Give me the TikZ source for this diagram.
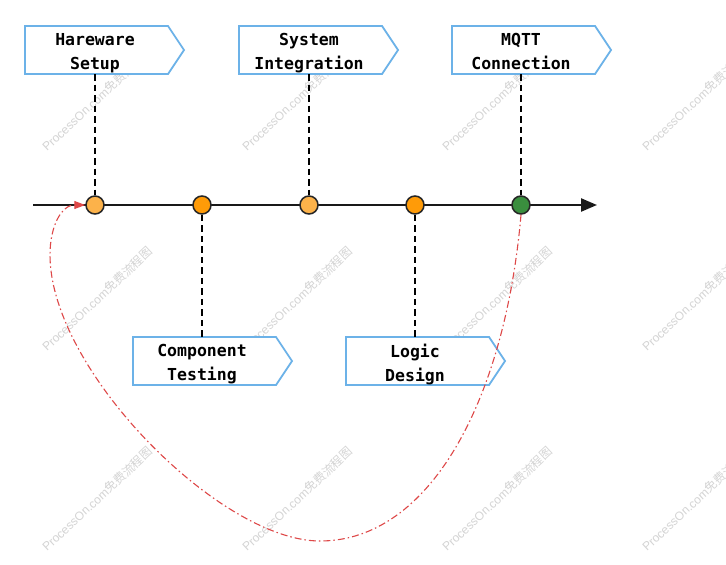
\documentclass[tikz,border=0pt]{standalone}
\usepackage{fontspec}
\setmainfont{Liberation Sans}
\newfontfamily\labelfont{DejaVu Sans Mono}
\newfontfamily\cjkfont{Noto Sans CJK SC}
\usetikzlibrary{arrows.meta}
\definecolor{boxblue}{RGB}{108,178,232}
\definecolor{lightorange}{RGB}{252,178,74}
\definecolor{darkorange}{RGB}{255,155,8}
\definecolor{dotgreen}{RGB}{58,142,62}
\definecolor{loopred}{RGB}{222,72,72}
\definecolor{wmgray}{RGB}{212,212,212}
\tikzset{
  evbox/.style={draw=boxblue, line width=1.8pt, fill=white, line join=miter},
  evtext/.style={font={\labelfont\bfseries\fontsize{16.5}{24}\selectfont}, align=center, inner sep=0pt, anchor=north, text=black},
  stem/.style={draw=black, line width=1.8pt, dash pattern=on 6.5pt off 4pt},
  timeline/.style={draw=black!90, line width=2.3pt, -{Triangle[length=16pt,width=13pt]}},
  dot/.style={circle, draw=black!85, line width=1.5pt, minimum size=18pt, inner sep=0pt},
  loopline/.style={draw=loopred, line width=1.1pt, dash pattern=on 7pt off 3pt on 1.5pt off 3pt, -{Triangle[length=11pt,width=8pt]}},
  wm/.style={font={\fontsize{12}{14}\selectfont}, text=wmgray, rotate=43, anchor=base west, inner sep=0pt}
}
\begin{document}
\begin{tikzpicture}[x=1pt,y=-1pt]
\useasboundingbox (0,0) rectangle (726,565);
\clip (0,0) rectangle (726,565);
\fill[white] (0,0) rectangle (726,565);

% watermarks
\foreach \wx in {47,247,447,647}{
  \foreach \wy in {152,352,552}{
    \node[wm] (wm-\wx-\wy) at (\wx,\wy) {ProcessOn.com{\cjkfont 免费流程图}};
  }
}

% timeline
\coordinate (tl0) at (33,205);
\coordinate (tl1) at (597,205);
\draw[timeline] (tl0) -- (tl1);

% boxes (top)
\draw[evbox] (25,26) -- (168,26) -- (184,50) -- (168,74) -- (25,74) -- cycle;
\draw[evbox] (239,26) -- (382,26) -- (398,50) -- (382,74) -- (239,74) -- cycle;
\draw[evbox] (452,26) -- (595,26) -- (611,50) -- (595,74) -- (452,74) -- cycle;
% boxes (bottom)
\draw[evbox] (133,337) -- (276,337) -- (292,361) -- (276,385) -- (133,385) -- cycle;
\draw[evbox] (346,337) -- (489,337) -- (505,361) -- (489,385) -- (346,385) -- cycle;

\coordinate (b1) at (95,74);
\coordinate (b2) at (202,337);
\coordinate (b3) at (309,74);
\coordinate (b4) at (415,337);
\coordinate (b5) at (521,74);

% dots
\node[dot, fill=lightorange] (c1) at (95,205) {};
\node[dot, fill=darkorange] (c2) at (202,205) {};
\node[dot, fill=lightorange] (c3) at (309,205) {};
\node[dot, fill=darkorange] (c4) at (415,205) {};
\node[dot, fill=dotgreen] (c5) at (521,205) {};

% stems
\draw[stem] (b1) -- (c1.north);
\draw[stem] (c2.south) -- (b2);
\draw[stem] (b3) -- (c3.north);
\draw[stem] (c4.south) -- (b4);
\draw[stem] (b5) -- (c5.north);

% labels
\node[evtext] (l1) at (95,33) {Hareware\\Setup};
\node[evtext] (l2) at (202,344) {Component\\Testing};
\node[evtext] (l3) at (309,33) {System\\Integration};
\node[evtext] (l4) at (415,344) {Logic\\Design};
\node[evtext] (l5) at (521,33) {MQTT\\Connection};

% loop back
\draw[loopline] (c5.south) .. controls (505,400) and (430,541) .. (320,541)
  .. controls (220,541) and (50,370) .. (50,255)
  .. controls (50,225) and (62,205) .. (c1.west);
\end{tikzpicture}
\end{document}
